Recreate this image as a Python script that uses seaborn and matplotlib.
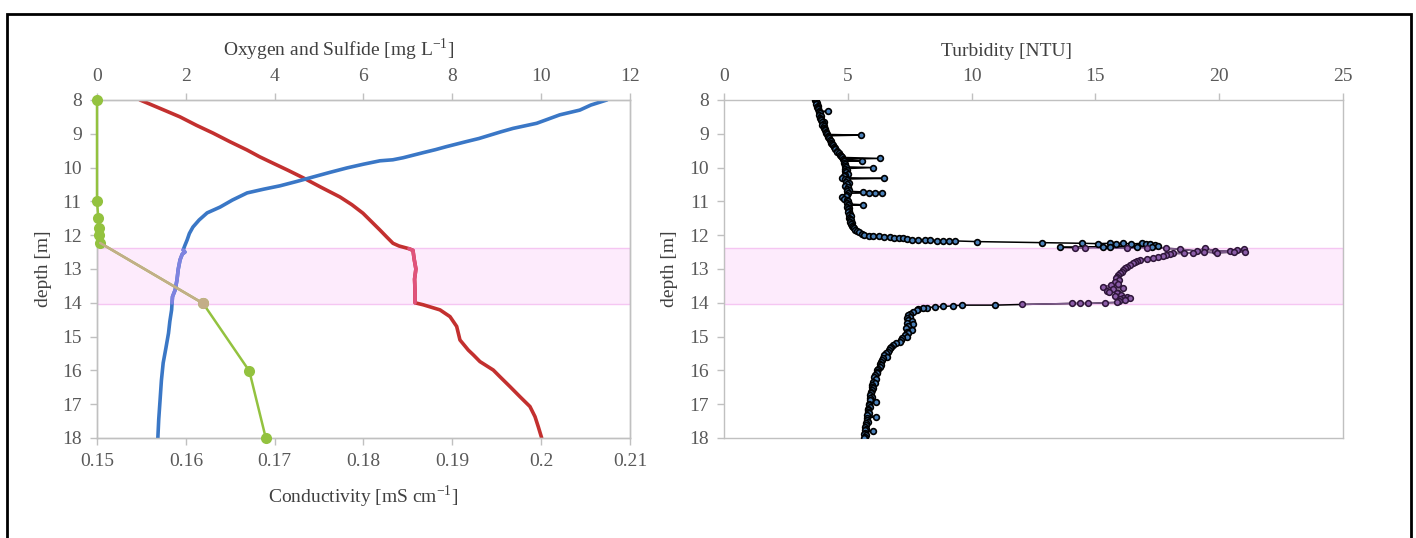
import numpy as np
import pandas as pd
import seaborn as sns
import matplotlib.pyplot as plt
from matplotlib.patches import Rectangle

# Oxygen profile [mg L-1]
oxy_depth = [8.0, 8.15, 8.3, 8.44, 8.57, 8.69, 8.84, 8.94, 9.04, 9.14, 9.23, 9.38, 9.47,
             9.56, 9.71, 9.77, 9.80, 9.90, 10.01, 10.14, 10.28, 10.41, 10.54, 10.64, 10.75,
             10.96, 11.17, 11.34, 11.55, 11.76, 11.95, 12.14, 12.30, 12.44, 12.50, 12.56,
             12.73, 13.0, 13.33, 13.62, 13.82, 14.0, 14.21, 14.55, 14.9, 15.35, 15.78,
             16.3, 16.88, 17.45, 18.0]
oxygen = [11.48, 11.12, 10.87, 10.42, 10.15, 9.90, 9.37, 9.10, 8.85, 8.60, 8.32, 7.87, 7.62,
          7.34, 6.89, 6.66, 6.37, 6.00, 5.63, 5.25, 4.86, 4.50, 4.12, 3.75, 3.38,
          3.05, 2.77, 2.48, 2.30, 2.16, 2.08, 2.03, 1.98, 1.94, 1.98, 1.92,
          1.87, 1.83, 1.80, 1.76, 1.70, 1.69, 1.68, 1.64, 1.61, 1.55, 1.49,
          1.45, 1.42, 1.39, 1.37]

# Conductivity profile [mS cm-1]
cond_depth = [8.0, 8.25, 8.5, 8.75, 8.98, 9.24, 9.48, 9.68, 9.87, 10.08, 10.3, 10.58, 10.87,
              11.1, 11.35, 11.6, 11.85, 12.05, 12.24, 12.32, 12.4, 12.45, 12.7, 13.0, 13.3,
              13.62, 14.0, 14.06, 14.21, 14.41, 14.7, 15.1, 15.4, 15.54, 15.74, 15.99,
              16.19, 16.48, 16.78, 17.07, 17.37, 17.67, 18.0]
conductivity = [0.15484, 0.1571, 0.15934, 0.1612, 0.16306, 0.1650, 0.16689, 0.1683, 0.16981,
                0.1715, 0.17319, 0.1752, 0.17735, 0.1787, 0.17994, 0.1809, 0.18186, 0.1826,
                0.18332, 0.1840, 0.18512, 0.18557, 0.18570, 0.18590, 0.18575, 0.18580,
                0.18580, 0.18673, 0.18861, 0.18974, 0.19049, 0.19086, 0.19180, 0.19236,
                0.19311, 0.19461, 0.19537, 0.19649, 0.19762, 0.19874, 0.19931, 0.19968,
                0.20006]

# Sulfide samples [mg L-1]
sulf_depth = [8.0, 11.0, 11.49, 11.79, 12.0, 12.23, 14.02, 16.02, 18.0]
sulfide = [0.0, 0.0, 0.03, 0.05, 0.05, 0.07, 2.39, 3.43, 3.80]

# Turbidity profile [NTU]
turb_depth = [
    8.00, 8.03, 8.06, 8.10, 8.13, 8.17, 8.20, 8.24, 8.28, 8.32, 8.34, 8.36, 8.40, 8.44,
    8.48, 8.52, 8.56, 8.60, 8.64, 8.66, 8.70, 8.74, 8.78, 8.82, 8.86, 8.90, 8.94, 8.98,
    9.02, 9.04, 9.06, 9.10, 9.14, 9.18, 9.22, 9.26, 9.30, 9.34, 9.38, 9.42, 9.46, 9.50,
    9.54, 9.58, 9.62, 9.66, 9.70, 9.73, 9.75, 9.78, 9.80, 9.82, 9.86, 9.90, 9.94, 9.98,
    10.00, 10.03, 10.07, 10.10, 10.14, 10.18, 10.22, 10.26, 10.30, 10.32, 10.34, 10.38,
    10.42, 10.46, 10.50, 10.54, 10.58, 10.62, 10.66, 10.70, 10.72, 10.74, 10.74, 10.75,
    10.76, 10.80, 10.84, 10.88, 10.92, 10.96, 11.00, 11.04, 11.08, 11.10, 11.12, 11.16,
    11.20, 11.24, 11.28, 11.32, 11.36, 11.40, 11.44, 11.48, 11.52, 11.56, 11.60, 11.64,
    11.68, 11.72, 11.76, 11.80, 11.84, 11.88, 11.92, 11.96, 11.99, 12.01, 12.02, 12.03,
    12.04, 12.05, 12.07, 12.08, 12.09, 12.12, 12.14, 12.14, 12.15, 12.14, 12.16, 12.17,
    12.17, 12.17, 12.19, 12.22, 12.24, 12.25, 12.24, 12.25, 12.24, 12.26, 12.24, 12.25,
    12.26, 12.28, 12.31, 12.36, 12.37, 12.37, 12.34, 12.36, 12.39, 12.34, 12.37, 12.36,
    12.39, 12.41, 12.47, 12.39, 12.47, 12.46, 12.44, 12.41, 12.49, 12.50, 12.52, 12.50,
    12.53, 12.54, 12.54, 12.57, 12.60, 12.63, 12.65, 12.68, 12.70, 12.73, 12.76, 12.80,
    12.83, 12.88, 12.93, 12.98, 13.03, 13.08, 13.13, 13.18, 13.23, 13.28, 13.33, 13.38,
    13.43, 13.48, 13.52, 13.57, 13.60, 13.64, 13.67, 13.70, 13.72, 13.76, 13.80, 13.82,
    13.85, 13.87, 13.90, 13.93, 13.96, 13.99, 14.00, 14.02, 14.02, 14.02, 14.05, 14.07,
    14.07, 14.09, 14.11, 14.12, 14.15, 14.16, 14.19, 14.21, 14.26, 14.32, 14.37, 14.41,
    14.46, 14.50, 14.55, 14.60, 14.64, 14.70, 14.75, 14.80, 14.85, 14.90, 14.95, 15.00,
    15.05, 15.10, 15.15, 15.20, 15.25, 15.30, 15.35, 15.40, 15.45, 15.50, 15.55, 15.60,
    15.64, 15.70, 15.75, 15.80, 15.85, 15.89, 15.95, 16.00, 16.05, 16.09, 16.15, 16.20,
    16.25, 16.33, 16.38, 16.43, 16.48, 16.53, 16.58, 16.63, 16.68, 16.73, 16.78, 16.83,
    16.88, 16.93, 16.98, 17.03, 17.08, 17.13, 17.17, 17.22, 17.27, 17.32, 17.37, 17.42,
    17.47, 17.52, 17.57, 17.62, 17.67, 17.72, 17.76, 17.80, 17.84, 17.88, 17.92, 17.96,
    18.00]
turbidity = [
    3.68, 3.72, 3.70, 3.75, 3.73, 3.78, 3.76, 3.80, 3.79, 3.84, 4.21, 3.83, 3.86, 3.85,
    3.90, 3.89, 3.93, 3.92, 4.05, 3.95, 3.98, 3.97, 4.02, 4.03, 4.06, 4.08, 4.10, 4.14,
    4.17, 5.52, 4.20, 4.22, 4.25, 4.27, 4.31, 4.33, 4.37, 4.39, 4.43, 4.47, 4.50, 4.55,
    4.58, 4.63, 4.68, 4.72, 4.76, 6.30, 4.80, 4.83, 5.56, 4.86, 4.84, 4.90, 4.87, 4.93,
    6.02, 4.90, 4.95, 4.88, 4.94, 5.02, 4.90, 4.86, 4.76, 6.47, 4.90, 4.98,
    4.92, 5.05, 4.95, 4.88, 5.00, 4.96, 5.06, 4.98, 5.62, 6.40, 6.10, 5.85,
    5.00, 4.95, 4.92, 4.77, 4.85, 4.98, 5.00, 4.96, 5.05, 5.62, 5.02, 4.98,
    5.04, 5.00, 5.06, 5.02, 5.08, 5.04, 5.12, 5.06, 5.10, 5.14, 5.08, 5.15,
    5.12, 5.18, 5.20, 5.26, 5.30, 5.38, 5.46, 5.56, 5.66, 5.85, 6.03, 6.25,
    6.45, 6.70, 6.85, 7.05, 7.25, 7.40, 7.58, 7.85, 8.10, 8.32, 8.60, 8.86,
    9.10, 9.33, 10.20, 12.83, 14.45, 15.10, 15.59, 15.85, 16.13, 16.45, 16.87, 17.05,
    17.20, 17.40, 17.54, 13.57, 14.18, 14.58, 15.32, 15.60, 16.27, 16.67, 17.07, 17.30,
    17.87, 18.40, 19.09, 19.43, 19.84, 20.45, 20.72, 20.99, 21.03, 20.60, 19.90, 19.40,
    18.95, 18.60, 18.14, 18.00, 17.85, 17.74, 17.55, 17.34, 17.10, 16.80, 16.70, 16.60,
    16.53, 16.40, 16.26, 16.18, 16.10, 16.06, 15.98, 15.92, 15.86, 15.82, 15.95, 15.79,
    15.90, 15.62, 15.32, 16.13, 15.70, 15.46, 15.55, 15.90, 15.86, 16.05, 15.80, 16.27,
    16.10, 16.40, 16.00, 16.20, 15.95, 15.86, 15.39, 14.71, 14.38, 14.04, 12.02, 10.95,
    9.60, 9.26, 8.86, 8.52, 8.19, 8.05, 7.85, 7.78, 7.62, 7.51, 7.45, 7.51,
    7.38, 7.45, 7.60, 7.38, 7.65, 7.45, 7.35, 7.58, 7.40, 7.42, 7.30, 7.38,
    7.20, 7.15, 7.11, 6.95, 6.84, 6.75, 6.70, 6.66, 6.64, 6.55, 6.48, 6.60,
    6.43, 6.38, 6.35, 6.30, 6.36, 6.30, 6.22, 6.20, 6.17, 6.17, 6.10, 6.06,
    6.12, 6.03, 6.10, 5.98, 5.96, 6.02, 5.96, 5.92, 5.95, 5.90, 5.96, 5.88,
    5.90, 6.12, 5.86, 5.84, 5.90, 5.82, 5.83, 5.80, 5.86, 5.78, 6.13, 5.77,
    5.76, 5.80, 5.72, 5.74, 5.70, 5.75, 5.69, 6.00, 5.70, 5.66, 5.72, 5.68,
    5.67]

# Shaded layer (depth range, m)
band = [12.37, 14.05]

oxy = pd.DataFrame({"depth": oxy_depth, "value": oxygen})
cond = pd.DataFrame({"depth": cond_depth, "value": conductivity})
sulf = pd.DataFrame({"depth": sulf_depth, "value": sulfide})
turb = pd.DataFrame({"depth": turb_depth, "value": turbidity})

def in_band(df):
    return df[(df["depth"] >= band[0]) & (df["depth"] <= band[1])]

sns.set_theme(style="white")
plt.rcParams["font.family"] = ["Liberation Serif", "DejaVu Serif"]
plt.rcParams["mathtext.fontset"] = "custom"
plt.rcParams["mathtext.rm"] = "Liberation Serif"

label_c = "#404040"
tick_c = "#595959"
spine_c = "#c0c0c0"
fs = 14

fig = plt.figure(figsize=(14.16, 5.38), dpi=100)
ax = fig.add_axes([0.0685, 0.1859, 0.3764, 0.6283])
axo = ax.twiny()
axt = fig.add_axes([0.5113, 0.1859, 0.4371, 0.6283])

for a in (ax, axt):
    a.axhspan(band[0], band[1], facecolor="#fdebfc", edgecolor="#f5c6f2", lw=1, zorder=0)

# conductivity (bottom axis)
sns.lineplot(data=cond, x="value", y="depth", sort=False, estimator=None, ax=ax,
             color="#c3302f", lw=2.6)
sns.lineplot(data=in_band(cond), x="value", y="depth", sort=False, estimator=None, ax=ax,
             color="#e0527c", lw=2.6)

# oxygen and sulfide (top axis)
sns.lineplot(data=oxy, x="value", y="depth", sort=False, estimator=None, ax=axo,
             color="#3a77c6", lw=2.6)
sns.lineplot(data=in_band(oxy), x="value", y="depth", sort=False, estimator=None, ax=axo,
             color="#7f82e0", lw=2.6)
sns.lineplot(data=sulf, x="value", y="depth", sort=False, estimator=None, ax=axo,
             color="#93c23f", lw=1.8, marker="o", markersize=8, markeredgewidth=0,
             clip_on=False, zorder=5)
cross = sulf.iloc[5:7]
sns.lineplot(data=cross, x="value", y="depth", sort=False, estimator=None, ax=axo,
             color="#c3ae88", lw=1.8, clip_on=False, zorder=5)
sns.scatterplot(data=sulf.iloc[[6]], x="value", y="depth", ax=axo, color="#c3ae88",
                s=64, linewidth=0, zorder=6)

ax.set_xlim(0.15, 0.21)
ax.set_xticks(np.arange(0.15, 0.2101, 0.01))
ax.set_xticklabels([f"{v:g}" for v in np.round(np.arange(0.15, 0.2101, 0.01), 2)])
axo.set_xlim(0, 12)
axo.set_xticks(range(0, 13, 2))
ax.set_ylim(18, 8)
ax.set_yticks(range(8, 19))

ax.set_xlabel(r"Conductivity [mS cm$^{\mathregular{-1}}$]", fontsize=fs, color=label_c)
axo.set_xlabel(r"Oxygen and Sulfide [mg L$^{\mathregular{-1}}$]", fontsize=fs, color=label_c)
ax.set_ylabel("depth [m]", fontsize=fs, color=label_c)

# turbidity
sns.lineplot(data=turb, x="value", y="depth", sort=False, estimator=None, ax=axt,
             color="black", lw=1.1)
tb = in_band(turb)
sns.lineplot(data=tb, x="value", y="depth", sort=False, estimator=None, ax=axt,
             color="#7d5a8c", lw=1.1)
sns.scatterplot(data=turb.drop(tb.index), x="value", y="depth", ax=axt, s=17,
                color="#4a80b8", edgecolor="black", linewidth=1.2, zorder=4)
sns.scatterplot(data=tb, x="value", y="depth", ax=axt, s=17,
                color="#8b5da8", edgecolor="#2e1538", linewidth=1.1, zorder=4)
axt.set_xlim(0, 25)
axt.set_xticks(range(0, 26, 5))
axt.set_ylim(18, 8)
axt.set_yticks(range(8, 19))
axt.xaxis.tick_top()
axt.xaxis.set_label_position("top")
axt.set_xlabel("Turbidity [NTU]", fontsize=fs, color=label_c)
axt.set_ylabel("depth [m]", fontsize=fs, color=label_c)

for a in (ax, axo, axt):
    for s in a.spines.values():
        s.set_color(spine_c)
        s.set_linewidth(1.0)

ax.tick_params(axis="x", bottom=True, top=False, direction="out", length=5, width=1,
               color=spine_c, labelcolor=tick_c, labelsize=fs, pad=6)
ax.tick_params(axis="y", left=True, direction="out", length=5, width=1,
               color=spine_c, labelcolor=tick_c, labelsize=fs, pad=6)
axo.tick_params(axis="x", top=True, bottom=False, direction="out", length=5, width=1,
                color=spine_c, labelcolor=tick_c, labelsize=fs, pad=6)
axt.tick_params(axis="x", top=True, bottom=False, labeltop=True, labelbottom=False,
                direction="out", length=5, width=1, color=spine_c, labelcolor=tick_c,
                labelsize=fs, pad=6)
axt.tick_params(axis="y", left=True, direction="out", length=5, width=1,
                color=spine_c, labelcolor=tick_c, labelsize=fs, pad=6)

axo.xaxis.set_label_coords(0.454, 1.13)
axt.xaxis.set_label_coords(0.457, 1.13)
ax.xaxis.set_label_coords(0.5, -0.135)
ax.yaxis.set_label_coords(-0.085, 0.5)
axt.yaxis.set_label_coords(-0.075, 0.5)

fig.patches.append(Rectangle((7 / 1416, -0.05), 1404 / 1416, 524 / 538 + 0.05,
                             transform=fig.transFigure, fill=False, lw=2, ec="black"))

fig.savefig("out.png", dpi=100)
plt.close(fig)
